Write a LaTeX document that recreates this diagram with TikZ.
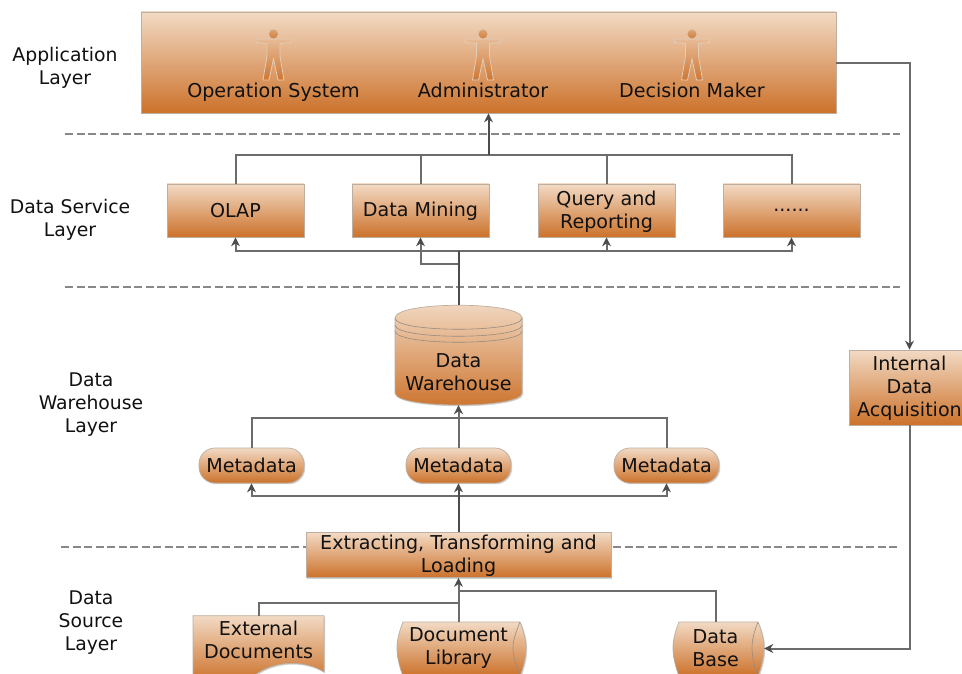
\documentclass[tikz,border=0pt]{standalone}
\usepackage{fontspec}
\setmainfont{DejaVu Sans}
\usetikzlibrary{arrows.meta,shadows}
\definecolor{gtop}{HTML}{F2DAC4}
\definecolor{gbot}{HTML}{CC722B}
\definecolor{edge}{HTML}{BDAE9F}
\definecolor{wire}{HTML}{6C6C6C}
\definecolor{wiredark}{HTML}{4C4C4C}
\definecolor{dashc}{HTML}{888888}
\definecolor{txt}{HTML}{111111}
\newcommand{\lowr}{\rule{0pt}{16.8pt}}
\tikzset{
  x=1pt,y=-1pt,
  lbl/.style={font=\fontsize{18.8}{23}\selectfont,align=center,text=txt,inner sep=0pt},
  grad/.style={top color=gtop,bottom color=gbot,draw=edge,line width=.7pt},
  softshadow/.style={drop shadow={shadow xshift=1.2pt,shadow yshift=-1.2pt,opacity=.18,fill=black}},
  boxn/.style={grad,softshadow,rectangle,minimum width=#1,inner sep=0pt,align=center,text=txt,font=\fontsize{19.1}{23}\selectfont},
  boxn/.default=137pt,
  anch/.style={rectangle,minimum width=#1,inner sep=0pt,align=center,text=txt,font=\fontsize{19.1}{23}\selectfont},
  single/.style={text height=14pt,text depth=4pt},
  wireline/.style={draw=wire,line width=2pt},
  arr/.style={wireline,-{Stealth[length=9pt,width=9pt,color=wiredark]}},
  heavy/.style={draw=wiredark},
  sep/.style={draw=dashc,line width=2pt,dash pattern=on 8pt off 3.5pt},
  person/.pic={
    \path[top color=gtop!70!gbot,bottom color=gbot!95!gtop,draw=gtop!70!edge,line width=.8pt]
      (-17.5,5) -- (17.5,5) -- (17.5,8.5) -- (6.5,9.5) -- (6.5,22) -- (10.5,46) -- (4.5,46) -- (0,25) -- (-4.5,46) -- (-10.5,46) -- (-6.5,22) -- (-6.5,9.5) -- (-17.5,8.5) -- cycle;
    \path[top color=gtop!50!gbot,bottom color=gbot!90!gtop,draw=gtop!70!edge,line width=.6pt] (0,0) circle (5pt);
  }
}
\begin{document}
\begin{tikzpicture}
\useasboundingbox (0,0) rectangle (962,674);
\clip (0,0) rectangle (962,674);
% separators
\coordinate (s1a) at (65,134.5); \coordinate (s1b) at (900,134.5);
\coordinate (s2a) at (65,286.5); \coordinate (s2b) at (900,286.5);
\coordinate (s3a) at (61,546.5); \coordinate (s3b) at (897,546.5);
\draw[sep] (s1a) -- (s1b);
\draw[sep] (s2a) -- (s2b);
\draw[sep] (s3a) -- (s3b);
% layer labels
\node[lbl] (l1) at (65,68) {Application\\Layer};
\node[lbl] (l2) at (70,220) {Data Service\\Layer};
\node[lbl] (l3) at (91,405) {Data\\Warehouse\\Layer};
\node[lbl] (l4) at (91,623) {Data\\Source\\Layer};
% application
\node[boxn=695pt,minimum height=101pt] (app) at (488.5,62.5) {};
\pic at (273.5,34) {person};
\pic at (483,34) {person};
\pic at (692,34) {person};
\node[anch=10pt,single] (os) at (273.5,93) {Operation System};
\node[anch=10pt,single] (ad) at (483,93) {Administrator};
\node[anch=10pt,single] (dm) at (692,93) {Decision Maker};
% data service
\node[boxn,minimum height=53pt] (olap) at (235.5,210.5) {OLAP};
\node[boxn,minimum height=53pt] (mine) at (420.5,210.5) {\lowr Data Mining};
\node[boxn,minimum height=53pt] (query) at (606.5,210.5) {\lowr Query and\\Reporting};
\node[boxn,minimum height=53pt] (more) at (791.5,210.5) {......};
% data warehouse
\path[grad,softshadow] (395,318) .. controls (395,301) and (522,301) .. (522,318) -- (522,393)
   .. controls (522,409) and (395,409) .. (395,393) -- cycle;
\draw[edge!80!black,line width=.6pt] (395,318) .. controls (395,333) and (522,333) .. (522,318);
\draw[edge!80!black,line width=.6pt] (395,325) .. controls (395,340) and (522,340) .. (522,325);
\draw[edge!80!black,line width=.6pt] (395,331) .. controls (395,346) and (522,346) .. (522,331);
\node[anch=127pt,minimum height=65pt] (dw) at (458.5,372.5) {Data\\Warehouse};
\coordinate (dwtop) at (458.5,305);
% metadata
\node[boxn=105pt,minimum height=35pt,rounded corners=16pt] (m1) at (251.5,465.5) {Metadata};
\node[boxn=105pt,minimum height=35pt,rounded corners=16pt] (m2) at (458.5,465.5) {Metadata};
\node[boxn=105pt,minimum height=35pt,rounded corners=16pt] (m3) at (666.5,465.5) {Metadata};
% ETL
\node[boxn=305pt,minimum height=45pt] (etl) at (458.5,555) {\lowr Extracting, Transforming and\\Loading};
% sources
\path[grad,softshadow] (193,615.7) -- (324,615.7) -- (324,672) .. controls (305,660) and (275,660) .. (255,675) -- (235,682) -- (193,678) -- cycle;
\node[anch=131pt,minimum height=48pt] (ext) at (258.5,639.7) {External\\Documents};
\path[grad,softshadow] (403,622) -- (520,622) .. controls (524,632) and (526,640) .. (526,648) .. controls (526,656) and (524,666) .. (520,676) -- (403,676)
  .. controls (399,666) and (397,656) .. (397,648) .. controls (397,640) and (399,632) .. (403,622) -- cycle;
\draw[edge!80!black,line width=.6pt] (520,622) .. controls (516,632) and (513,640) .. (513,648) .. controls (513,656) and (516,666) .. (520,676);
\node[anch=135pt,minimum height=52pt] (lib) at (458.5,648) {Document\\Library};
\path[grad,softshadow] (679,622) -- (758,622) .. controls (762,632) and (764,640) .. (764,648) .. controls (764,656) and (762,666) .. (758,676) -- (679,676)
  .. controls (675,666) and (673,656) .. (673,648) .. controls (673,640) and (675,632) .. (679,622) -- cycle;
\draw[edge!80!black,line width=.6pt] (758,622) .. controls (754,632) and (752,640) .. (752,648) .. controls (752,656) and (754,666) .. (758,676);
\node[anch=97pt,minimum height=53pt] (db) at (715.5,648.5) {Data\\Base};
% internal data acquisition
\node[boxn=121pt,minimum height=75pt] (ida) at (909.5,387.5) {\lowr Internal\\Data\\Acquisition};
% junctions
\coordinate (j1) at (488.5,155.5);
\coordinate (j2) at (458.5,250.5);
\coordinate (j2b) at (458.5,263.5);
\coordinate (j3) at (458.5,417.5);
\coordinate (j4) at (458.5,495.5);
\coordinate (j5) at (458.5,602.5);
\coordinate (j6) at (458.5,590.5);
\coordinate (turn) at (909.5,63.5);
% connectors: services up to application
\draw[wireline] (olap.north) |- (j1);
\draw[wireline] (mine.north) |- (j1);
\draw[wireline] (query.north) |- (j1);
\draw[wireline] (more.north) |- (j1);
\draw[arr,heavy] (j1) -- (app.south);
% warehouse up to services
\draw[arr] (j2) -| (olap.south);
\draw[arr] (j2) -| (query.south);
\draw[arr] (j2) -| (more.south);
\draw[arr] (j2b) -| (mine.south);
\draw[wireline,heavy] (dwtop) -- (j2);
% metadata up to warehouse
\draw[wireline] (m1.north) |- (j3);
\draw[wireline] (m3.north) |- (j3);
\draw[arr] (m2.north) -- (dw.south);
% etl up to metadata
\draw[arr] (j4) -| (m1.south);
\draw[arr] (j4) -| (m3.south);
\draw[arr,heavy] (etl.north) -- (m2.south);
% sources up to etl
\draw[wireline] (ext.north) |- (j5);
\draw[wireline] (db.north) |- (j6);
\draw[arr] (lib.north) -- (etl.south);
% application to internal to data base
\draw[arr] (app.east |- turn) -| (ida.north);
\draw[arr] (ida.south) |- (db.east);
\end{tikzpicture}
\end{document}
